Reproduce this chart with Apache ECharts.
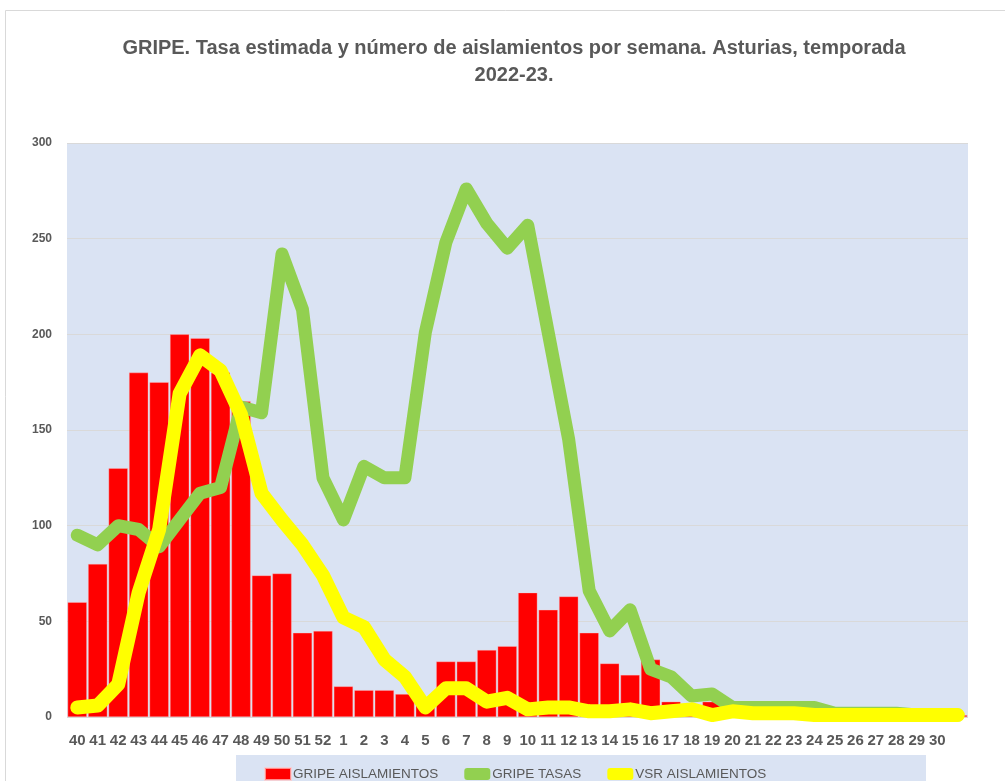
<!DOCTYPE html>
<html>
<head>
<meta charset="utf-8">
<script src="https://cdn.jsdelivr.net/npm/echarts@6/dist/echarts.min.js"></script>
<style>
html,body{margin:0;padding:0;background:#fff;}
#chart{width:1005px;height:781px;}
</style>
</head>
<body>
<div id="chart"></div>
<script>
const weeks = ['40','41','42','43','44','45','46','47','48','49','50','51','52',
  '1','2','3','4','5','6','7','8','9','10','11','12','13','14','15','16','17','18','19','20',
  '21','22','23','24','25','26','27','28','29','30',''];

const gripeAislamientos = [60,80,130,180,175,200,198,180,165,74,75,44,45,
  16,14,14,12,7,29,29,35,37,65,56,63,44,28,22,30,8,4,8,2,
  1,1,1,1,1,1,1,1,1,1,1];

const gripeTasas = [95,90,100,98,89,103,117,120,162,159,242,213,125,
  103,131,125,125,201,248,276,258,245,257,201,145,66,45,56,25,21,11,12,5,
  5,5,5,5,2,2,2,2,1,1,1];

const vsrAislamientos = [5,6,17,65,98,169,189,181,158,117,103,90,74,
  52,47,30,21,5,15,15,8,10,4,5,5,3,3,4,2,3,4,1,3,
  2,2,2,1,1,1,1,1,1,1,1];

const yTicks = [0,50,100,150,200,250,300];

const textGrey = '#595959';
const chart = echarts.init(document.getElementById('chart'), null, {renderer:'canvas'});

chart.setOption({
  backgroundColor: '#ffffff',
  animation: false,
  title: {
    text: 'GRIPE. Tasa estimada y número de aislamientos por semana. Asturias, temporada\n2022-23.',
    left: 509,
    textAlign: 'center',
    top: 30,
    textStyle: {
      fontFamily: 'Liberation Sans',
      fontWeight: 'bold',
      fontSize: 20,
      color: textGrey,
      lineHeight: 27
    }
  },
  graphic: [
    {type:'rect', shape:{x:5.5, y:10.5, width:1100, height:900}, style:{fill:'none', stroke:'#D9D9D9', lineWidth:1}, z:-10},
    {type:'rect', shape:{x:236, y:755, width:690, height:40}, style:{fill:'#DAE3F3'}, z:-5}
  ],
  legend: {
    left: 259,
    top: 762,
    itemGap: 26,
    itemWidth: 26,
    itemHeight: 12,
    textStyle: {fontFamily:'Liberation Sans', fontSize:13.5, color:textGrey, padding:[0,0,0,-3]},
    data: [
      {name:'GRIPE AISLAMIENTOS', icon:'rect'},
      {name:'GRIPE TASAS', icon:'roundRect', itemStyle:{color:'#92D050'}},
      {name:'VSR AISLAMIENTOS', icon:'roundRect', itemStyle:{color:'#FFFF00'}}
    ]
  },
  grid: {
    left: 67, right: 37, top: 143, bottom: 64,
    show: true, backgroundColor: '#DAE3F3', borderWidth: 0
  },
  xAxis: {
    type: 'category',
    data: weeks,
    axisLine: {show:false},
    axisTick: {show:false},
    axisLabel: {interval:0, margin:16, fontFamily:'Liberation Sans', fontWeight:'bold', fontSize:15, color:textGrey}
  },
  yAxis: {
    type: 'value',
    min: yTicks[0], max: yTicks[yTicks.length-1], interval: 50,
    axisLine: {show:false},
    axisTick: {show:false},
    splitLine: {lineStyle:{color:'#D9D9D9', width:1}},
    axisLabel: {margin:15, fontFamily:'Liberation Sans', fontWeight:'bold', fontSize:12, color:textGrey}
  },
  series: [
    {
      name: 'GRIPE AISLAMIENTOS',
      type: 'bar',
      data: gripeAislamientos,
      barCategoryGap: '6%',
      itemStyle: {color:'#FF0000', borderColor:'rgba(255,200,200,0.7)', borderWidth:0.5},
      z: 2
    },
    {
      name: 'GRIPE TASAS',
      type: 'line',
      data: gripeTasas,
      showSymbol: false,
      symbol: 'none',
      itemStyle: {color:'#92D050'},
      lineStyle: {color:'#92D050', width:13, cap:'round', join:'round'},
      z: 3
    },
    {
      name: 'VSR AISLAMIENTOS',
      type: 'line',
      data: vsrAislamientos,
      showSymbol: false,
      symbol: 'none',
      itemStyle: {color:'#FFFF00'},
      lineStyle: {color:'#FFFF00', width:14, cap:'round', join:'round'},
      z: 4
    }
  ]
});
</script>
</body>
</html>
